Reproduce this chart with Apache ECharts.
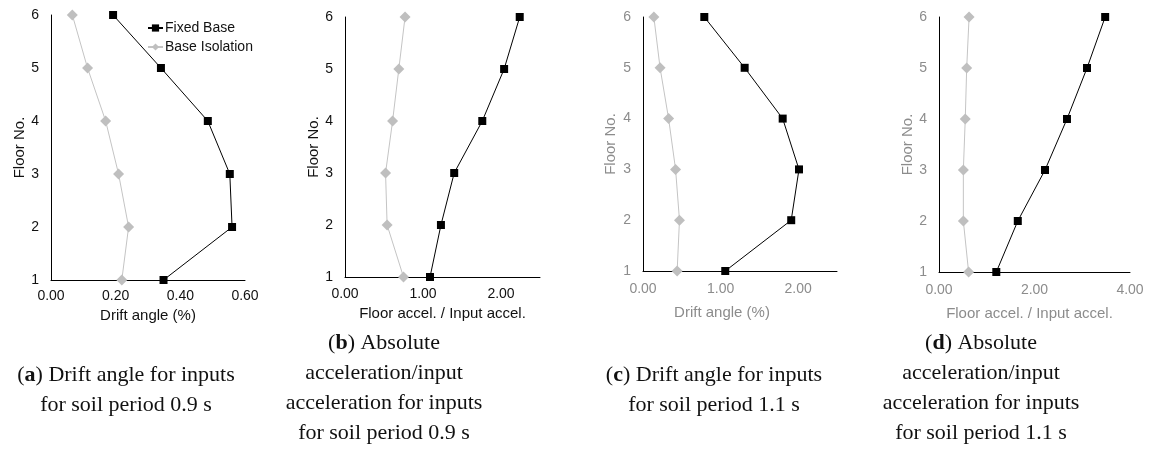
<!DOCTYPE html>
<html>
<head>
<meta charset="utf-8">
<script src="https://cdn.jsdelivr.net/npm/echarts@6/dist/echarts.min.js"></script>
<style>
  html, body { margin: 0; padding: 0; background: #fff; }
  #chart { width: 1150px; height: 455px; }
</style>
</head>
<body>
<div id="chart"></div>
<script>
// floors (y axis)
const floors = [1, 2, 3, 4, 5, 6]

// (a) drift angle, soil period 0.9 s
const fixedDriftA = [0.348, 0.56, 0.553, 0.485, 0.34, 0.192]
const isoDriftA = [0.219, 0.24, 0.209, 0.169, 0.113, 0.066]
// (b) floor accel / input accel, soil period 0.9 s
const fixedAccelB = [1.09, 1.23, 1.40, 1.76, 2.04, 2.24]
const isoAccelB = [0.75, 0.54, 0.52, 0.61, 0.69, 0.77]
// (c) drift angle, soil period 1.1 s
const fixedDriftC = [1.06, 1.91, 2.01, 1.80, 1.31, 0.79]
const isoDriftC = [0.44, 0.47, 0.42, 0.33, 0.22, 0.14]
// (d) floor accel / input accel, soil period 1.1 s
const fixedAccelD = [1.20, 1.65, 2.22, 2.68, 3.10, 3.48]
const isoAccelD = [0.62, 0.51, 0.51, 0.55, 0.58, 0.63]

// x axis ranges
const xMax = [0.6, 2.5, 2.5, 4]
const xStep = [0.2, 1, 1, 2]
const xMaxLabel = [true, false, false, true] // 2.5 end is not a labelled tick
const xNames = ['Drift angle (%)', 'Floor accel. / Input accel.', 'Drift angle (%)', 'Floor accel. / Input accel.']
const seriesNames = ['Fixed Base', 'Base Isolation']

const captions = [
  '({b|a}) Drift angle for inputs\nfor soil period 0.9 s',
  '({b|b}) Absolute\nacceleration/input\nacceleration for inputs\nfor soil period 0.9 s',
  '({b|c}) Drift angle for inputs\nfor soil period 1.1 s',
  '({b|d}) Absolute\nacceleration/input\nacceleration for inputs\nfor soil period 1.1 s'
]

const fixedData = [fixedDriftA, fixedAccelB, fixedDriftC, fixedAccelD]
const isoData = [isoDriftA, isoAccelB, isoDriftC, isoAccelD]

// layout of the four plots
const grids = [
  { left: 51, top: 15, width: 194, height: 265 },
  { left: 345, top: 17, width: 195, height: 260 },
  { left: 643, top: 17, width: 194, height: 254 },
  { left: 939, top: 17, width: 191, height: 255 }
]
const labelColor = ['#111', '#111', '#8c8c8c', '#8c8c8c']
const xLabelMargin = [9, 10, 11, 11]
const xNameGap = [25, 29, 34, 34]
const yNameGap = [22, 22, 25, 24]
const captionPos = [[126, 360], [384, 328], [714, 360], [981, 328]]

let chart = echarts.init(document.getElementById('chart'))

let gridOpt = [], xAxisOpt = [], yAxisOpt = [], seriesOpt = [], titleOpt = []
for (let i = 0; i < 4; i++) {
  gridOpt.push(Object.assign({ outerBoundsMode: 'none', containLabel: false }, grids[i]))
  xAxisOpt.push({
    type: 'value',
    gridIndex: i,
    min: 0,
    max: xMax[i],
    interval: xStep[i],
    name: xNames[i],
    nameLocation: 'middle',
    nameGap: xNameGap[i],
    nameTextStyle: {
      color: labelColor[i],
      fontSize: 15,
      fontFamily: 'Liberation Sans',
      padding: i === 2 ? [0, 36, 0, 0] : (i === 3 ? [0, 10, 0, 0] : 0)
    },
    axisLine: { show: true, onZero: false, lineStyle: { color: '#000', width: 1 } },
    axisTick: { show: false },
    splitLine: { show: false },
    axisLabel: {
      color: labelColor[i],
      fontSize: 14,
      fontFamily: 'Liberation Sans',
      margin: xLabelMargin[i],
      showMaxLabel: xMaxLabel[i],
      formatter: v => v.toFixed(2)
    }
  })
  yAxisOpt.push({
    type: 'value',
    gridIndex: i,
    min: 1,
    max: 6,
    interval: 1,
    name: 'Floor No.',
    nameLocation: 'middle',
    nameGap: yNameGap[i],
    nameTextStyle: { color: labelColor[i], fontSize: 15, fontFamily: 'Liberation Sans' },
    axisLine: { show: true, onZero: false, lineStyle: { color: '#000', width: 1 } },
    axisTick: { show: false },
    splitLine: { show: false },
    axisLabel: { color: labelColor[i], fontSize: 14, fontFamily: 'Liberation Sans', margin: 12 }
  })
  // base isolation (grey diamonds)
  seriesOpt.push({
    name: seriesNames[1],
    type: 'line',
    xAxisIndex: i,
    yAxisIndex: i,
    data: isoData[i].map((v, k) => [v, floors[k]]),
    symbol: 'diamond',
    symbolSize: 11,
    lineStyle: { color: '#c4c4c4', width: 1 },
    itemStyle: { color: '#bfbfbf' },
    animation: false
  })
  // fixed base (black squares)
  seriesOpt.push({
    name: seriesNames[0],
    type: 'line',
    xAxisIndex: i,
    yAxisIndex: i,
    data: fixedData[i].map((v, k) => [v, floors[k]]),
    symbol: 'rect',
    symbolSize: 8,
    lineStyle: { color: '#000', width: 1 },
    itemStyle: { color: '#000' },
    animation: false
  })
  titleOpt.push({
    text: captions[i],
    left: captionPos[i][0],
    top: captionPos[i][1],
    textAlign: 'center',
    padding: 0,
    textStyle: {
      color: '#111',
      fontSize: 22,
      fontWeight: 'normal',
      fontFamily: 'Liberation Serif',
      lineHeight: 30,
      rich: {
        b: { fontSize: 22, fontWeight: 'bold', fontFamily: 'Liberation Serif', lineHeight: 30, color: '#111' }
      }
    }
  })
}

chart.setOption({
  animation: false,
  title: titleOpt,
  legend: {
    data: seriesNames,
    orient: 'vertical',
    left: 147,
    top: 21,
    itemWidth: 15,
    itemHeight: 9,
    itemGap: 5,
    padding: 0,
    textStyle: { color: '#111', fontSize: 14, fontFamily: 'Liberation Sans', padding: [0, 0, 0, -3] }
  },
  grid: gridOpt,
  xAxis: xAxisOpt,
  yAxis: yAxisOpt,
  series: seriesOpt
})
</script>
</body>
</html>
